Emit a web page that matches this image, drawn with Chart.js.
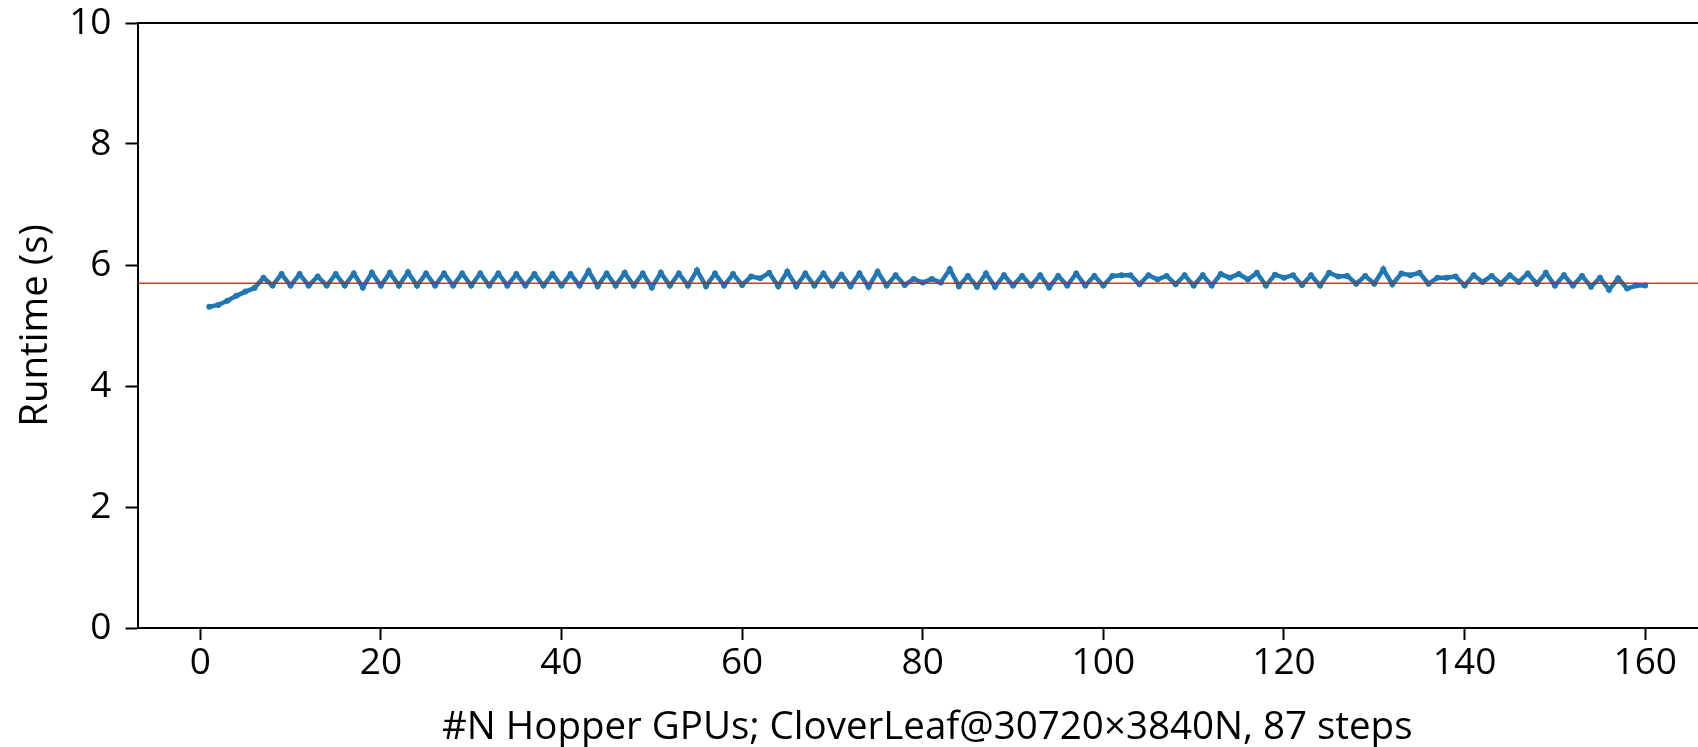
<!DOCTYPE html>
<html>
<head>
<meta charset="utf-8">
<script src="https://cdn.jsdelivr.net/npm/chart.js@4"></script>
<style>
  html, body { margin: 0; padding: 0; background: #fff; overflow: hidden; }
  #wrap { width: 1740px; height: 747px; }
</style>
</head>
<body>
<div id="wrap"><canvas id="runtimeChart"></canvas></div>
<script>
// Runtime per GPU count (N = 1..160)
const gpuCounts = Array.from({length: 160}, (_, i) => i + 1);
const runtimes = [
  5.31, 5.34, 5.41, 5.49, 5.56, 5.62, 5.79, 5.66, 5.85, 5.66,
  5.85, 5.66, 5.81, 5.66, 5.85, 5.66, 5.86, 5.63, 5.87, 5.66,
  5.87, 5.66, 5.88, 5.66, 5.86, 5.66, 5.86, 5.66, 5.86, 5.66,
  5.86, 5.66, 5.86, 5.66, 5.85, 5.66, 5.85, 5.66, 5.85, 5.66,
  5.85, 5.66, 5.90, 5.65, 5.86, 5.66, 5.87, 5.66, 5.86, 5.63,
  5.87, 5.66, 5.86, 5.66, 5.91, 5.65, 5.86, 5.66, 5.85, 5.67,
  5.81, 5.78, 5.87, 5.65, 5.89, 5.65, 5.86, 5.66, 5.86, 5.66,
  5.84, 5.65, 5.86, 5.64, 5.89, 5.66, 5.83, 5.67, 5.77, 5.71,
  5.77, 5.71, 5.93, 5.65, 5.82, 5.64, 5.86, 5.64, 5.83, 5.66,
  5.82, 5.66, 5.83, 5.63, 5.82, 5.66, 5.86, 5.66, 5.82, 5.66,
  5.82, 5.83, 5.83, 5.68, 5.83, 5.76, 5.82, 5.68, 5.83, 5.66,
  5.83, 5.66, 5.85, 5.79, 5.85, 5.76, 5.87, 5.66, 5.84, 5.79,
  5.83, 5.67, 5.83, 5.66, 5.87, 5.81, 5.82, 5.69, 5.82, 5.69,
  5.93, 5.68, 5.86, 5.83, 5.87, 5.69, 5.79, 5.79, 5.81, 5.66,
  5.83, 5.72, 5.82, 5.69, 5.83, 5.72, 5.86, 5.69, 5.87, 5.66,
  5.83, 5.66, 5.82, 5.64, 5.79, 5.59, 5.78, 5.61, 5.66, 5.66
];
const referenceRuntime = 5.7;
const xTicks = [0, 20, 40, 60, 80, 100, 120, 140, 160];
const yTicks = [0, 2, 4, 6, 8, 10];
const xMin = -6.95, xMax = 167.95;

const FONT = "'Open Sans', 'DejaVu Sans', sans-serif";

// top spine (matplotlib frame)
const topSpine = {
  id: 'topSpine',
  afterDraw(chart) {
    const {ctx, chartArea} = chart;
    ctx.save();
    ctx.strokeStyle = '#000';
    ctx.lineWidth = 2;
    ctx.beginPath();
    ctx.moveTo(chartArea.left, chartArea.top);
    ctx.lineTo(chartArea.right, chartArea.top);
    ctx.stroke();
    ctx.restore();
  }
};

const ctx = document.getElementById('runtimeChart').getContext('2d');
new Chart(ctx, {
  type: 'line',
  data: {
    datasets: [{
      label: 'reference',
      data: [{x: xMin, y: referenceRuntime}, {x: xMax, y: referenceRuntime}],
      borderColor: 'rgba(255, 0, 0, 0.85)',
      borderWidth: 1.5,
      pointRadius: 0,
      order: 0
    }, {
      label: 'runtime',
      data: gpuCounts.map((n, i) => ({x: n, y: runtimes[i]})),
      borderColor: '#1f77b4',
      backgroundColor: '#1f77b4',
      borderWidth: 4.5,
      pointRadius: 3,
      pointBorderWidth: 0,
      tension: 0,
      order: 1
    }]
  },
  options: {
    responsive: true,
    maintainAspectRatio: false,
    animation: false,
    layout: {padding: {left: 0, top: 23, right: 23, bottom: 0}},
    plugins: {
      legend: {display: false},
      tooltip: {enabled: false}
    },
    scales: {
      x: {
        type: 'linear',
        min: xMin,
        max: xMax,
        afterBuildTicks: scale => { scale.ticks = xTicks.map(v => ({value: v})); },
        afterFit: scale => {
          scale.height = 119;
          scale.paddingLeft = 0;
          scale.paddingRight = 0;
        },
        grid: {drawOnChartArea: false, drawTicks: true, tickLength: 12, tickWidth: 2, tickColor: '#000'},
        border: {color: '#000', width: 2},
        ticks: {autoSkip: false, maxRotation: 0, color: '#000', padding: 1, font: {family: FONT, size: 37}},
        title: {
          display: true,
          text: '#N Hopper GPUs; CloverLeaf@30720×3840N, 87 steps',
          color: '#000',
          padding: {top: 0, bottom: 0},
          font: {family: FONT, size: 38.5, lineHeight: 1.0}
        }
      },
      y: {
        min: 0,
        max: 10,
        afterBuildTicks: scale => { scale.ticks = yTicks.map(v => ({value: v})); },
        afterFit: scale => {
          scale.width = 137.5;
          scale.paddingTop = 0;
          scale.paddingBottom = 0;
        },
        grid: {drawOnChartArea: false, drawTicks: true, tickLength: 12, tickWidth: 2, tickColor: '#000'},
        border: {color: '#000', width: 2},
        ticks: {color: '#000', padding: 14, font: {family: FONT, size: 37}},
        title: {
          display: true,
          text: 'Runtime (s)',
          color: '#000',
          padding: {top: 13, bottom: 0},
          font: {family: FONT, size: 38.5, lineHeight: 1.2}
        }
      }
    }
  },
  plugins: [topSpine]
});
</script>
</body>
</html>
